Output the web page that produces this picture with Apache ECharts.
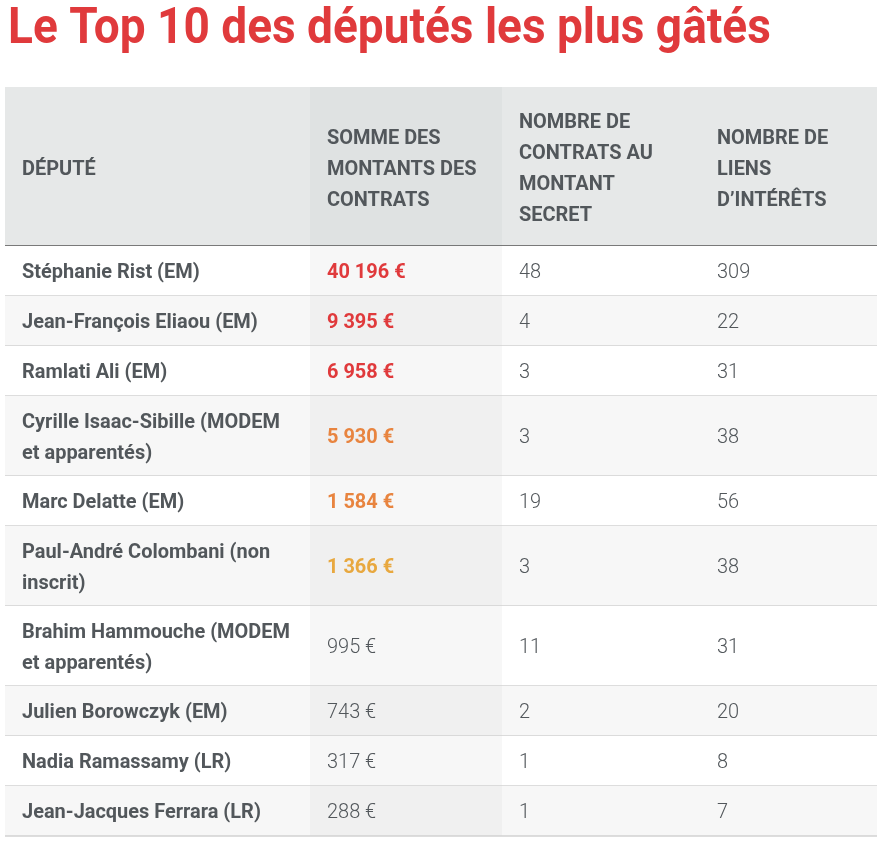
<!DOCTYPE html>
<html>
<head>
    <meta charset="utf-8">
    <script src="https://cdn.jsdelivr.net/npm/echarts@6/dist/echarts.min.js"></script>
</head>
<body style="margin:0;background:#ffffff;">
    <div id="main" style="width: 887px;height:847px;"></div>
    <script type="text/javascript">
        var titleText = 'Le Top 10 des députés les plus gâtés';
        var headers = ['DÉPUTÉ', 'SOMME DES\nMONTANTS DES\nCONTRATS', 'NOMBRE DE\nCONTRATS AU\nMONTANT\nSECRET', 'NOMBRE DE\nLIENS\nD\u2019INTÉRÊTS'];
        var deputes = ['Stéphanie Rist (EM)', 'Jean-François Eliaou (EM)', 'Ramlati Ali (EM)',
            'Cyrille Isaac-Sibille (MODEM\net apparentés)', 'Marc Delatte (EM)', 'Paul-André Colombani (non\ninscrit)',
            'Brahim Hammouche (MODEM\net apparentés)', 'Julien Borowczyk (EM)', 'Nadia Ramassamy (LR)', 'Jean-Jacques Ferrara (LR)'];
        var montants = [40196, 9395, 6958, 5930, 1584, 1366, 995, 743, 317, 288];
        var contratsSecrets = [48, 4, 3, 3, 19, 3, 11, 2, 1, 1];
        var liensInterets = [309, 22, 31, 38, 56, 38, 31, 20, 8, 7];
        var montantColors = ['#e03a3c', '#e03a3c', '#e03a3c', '#e8843f', '#e8843f', '#e8a83f', null, null, null, null];

        var FONT = "'Roboto', sans-serif";
        var colX = [5, 310, 502, 700, 877];
        var headTop = 87, headBottom = 246;
        var textColor = '#52575b';

        function fmt(v) {
            return String(v).replace(/\B(?=(\d{3})+(?!\d))/g, ' ') + ' €';
        }

        var g = [];
        g.push({ type: 'text', x: 8, y: 30, scaleX: 0.92,
            style: { text: titleText, font: 'bold 50px ' + FONT, fill: '#e03a3c', verticalAlign: 'middle' } });
        // header
        for (var c = 0; c < 4; c++) {
            g.push({ type: 'rect', shape: { x: colX[c], y: headTop, width: colX[c + 1] - colX[c], height: headBottom - headTop },
                style: { fill: c === 1 ? '#dfe2e2' : '#e6e8e8' } });
            g.push({ type: 'text', x: colX[c] + 17, y: (headTop + headBottom) / 2 + 3, scaleX: 0.95,
                style: { text: headers[c], font: 'bold 21px ' + FONT, fill: textColor, verticalAlign: 'middle', lineHeight: 31 } });
        }
        g.push({ type: 'line', shape: { x1: colX[0], y1: headBottom, x2: colX[4], y2: headBottom }, style: { stroke: '#555', lineWidth: 1.5 } });

        var y = headBottom;
        for (var i = 0; i < deputes.length; i++) {
            var h = deputes[i].indexOf('\n') >= 0 ? 80 : 50;
            var even = i % 2 === 0;
            var cells = [deputes[i], fmt(montants[i]), String(contratsSecrets[i]), String(liensInterets[i])];
            for (var c2 = 0; c2 < 4; c2++) {
                var fill = even ? (c2 === 1 ? '#f7f7f7' : '#ffffff') : (c2 === 1 ? '#f0f0f0' : '#f7f7f7');
                g.push({ type: 'rect', shape: { x: colX[c2], y: y, width: colX[c2 + 1] - colX[c2], height: h }, style: { fill: fill } });
                var bold = c2 === 0 || (c2 === 1 && montantColors[i]);
                var col = c2 === 1 && montantColors[i] ? montantColors[i] : textColor;
                g.push({ type: 'text', x: colX[c2] + 17, y: y + h / 2 + 2, scaleX: 0.95,
                    style: { text: cells[c2], font: (bold ? 'bold ' : '300 ') + '21px ' + FONT, fill: col, verticalAlign: 'middle', lineHeight: 31 } });
            }
            y += h;
            g.push({ type: 'line', shape: { x1: colX[0], y1: y, x2: colX[4], y2: y }, style: { stroke: '#d2d2d2', lineWidth: 1.5 } });
        }

        var myChart = echarts.init(document.getElementById('main'));
        myChart.setOption({ backgroundColor: '#ffffff', animation: false, graphic: { elements: g } });
    </script>
</body>
</html>
